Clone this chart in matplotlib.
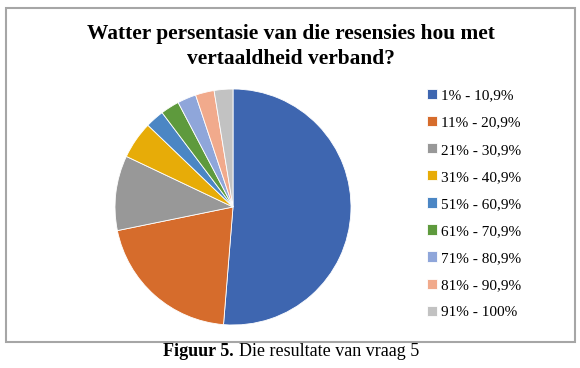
import matplotlib.pyplot as plt
from matplotlib.patches import Rectangle

# data
kategoriee = ['1% - 10,9%', '11% - 20,9%', '21% - 30,9%', '31% - 40,9%',
              '51% - 60,9%', '61% - 70,9%', '71% - 80,9%', '81% - 90,9%',
              '91% - 100%']
resensies = [20, 8, 4, 2, 1, 1, 1, 1, 1]
kleure = ['#3E66B0', '#D66C2C', '#989898', '#E7AC08', '#4B86C4',
          '#5E9A3D', '#8FA6DA', '#F1AA8C', '#C2C2C2']

plt.rcParams['font.family'] = ['Liberation Serif', 'DejaVu Serif']

W, H = 580, 368
fig = plt.figure(figsize=(W / 100, H / 100), dpi=100)

# chart border
fig.patches.append(Rectangle((6 / W, 1 - 342 / H), 569 / W, 334 / H,
                             transform=fig.transFigure, fill=False,
                             edgecolor='#A6A6A6', linewidth=1.5))

cx, cy, r = 233, 207, 118
ax = fig.add_axes([(cx - r) / W, 1 - (cy + r) / H, 2 * r / W, 2 * r / H])
wedges, _ = ax.pie(resensies, colors=kleure, startangle=90, counterclock=False,
                   radius=1, wedgeprops=dict(edgecolor='white', linewidth=0.6))
ax.set_xlim(-1, 1)
ax.set_ylim(-1, 1)
ax.set_aspect('equal')
ax.axis('off')

fig.text(291 / W, 1 - 34 / H, 'Watter persentasie van die resensies hou met',
         ha='center', va='center', fontsize=15.4, fontweight='bold')
fig.text(291 / W, 1 - 59 / H, 'vertaaldheid verband?',
         ha='center', va='center', fontsize=15.4, fontweight='bold')

fig.legend(wedges, kategoriee, loc='upper left',
           bbox_to_anchor=(421 / W, 1 - 83 / H), frameon=False,
           fontsize=11, handlelength=0.65, handleheight=0.65,
           handletextpad=0.25, labelspacing=0.89, borderaxespad=0)

fig.text(163 / W, 1 - 351 / H, 'Figuur 5.', ha='left', va='center',
         fontsize=13, fontweight='bold')
fig.text(239 / W, 1 - 351 / H, 'Die resultate van vraag 5', ha='left',
         va='center', fontsize=13)

fig.savefig('out.png', dpi=100)
